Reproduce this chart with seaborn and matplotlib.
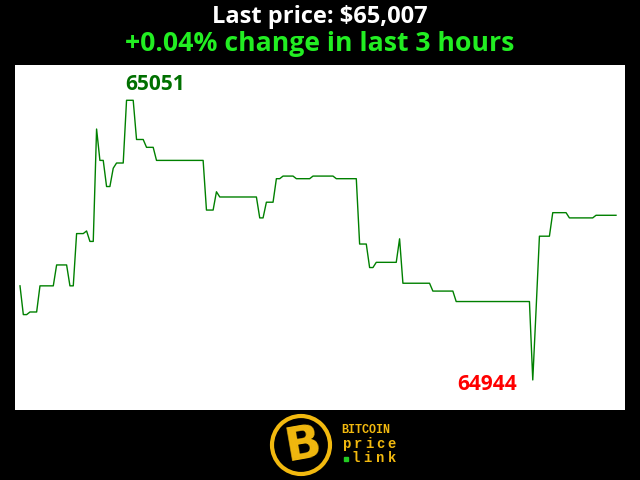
import numpy as np
import pandas as pd
import matplotlib
matplotlib.use("Agg")
import matplotlib.pyplot as plt
import seaborn as sns
from matplotlib.patches import Circle

# price per minute over the last 3 hours
prices = [
    64980, 64969, 64969, 64970, 64970, 64970, 64980, 64980, 64980, 64980,
    64980, 64988, 64988, 64988, 64988, 64980, 64980, 65000, 65000, 65000,
    65001, 64997, 64997, 65040, 65028, 65028, 65018, 65018, 65025, 65027,
    65027, 65027, 65051, 65051, 65051, 65036, 65036, 65036, 65033, 65033,
    65033, 65028, 65028, 65028, 65028, 65028, 65028, 65028, 65028, 65028,
    65028, 65028, 65028, 65028, 65028, 65028, 65009, 65009, 65009, 65016,
    65014, 65014, 65014, 65014, 65014, 65014, 65014, 65014, 65014, 65014,
    65014, 65014, 65006, 65006, 65012, 65012, 65012, 65021, 65021, 65022,
    65022, 65022, 65022, 65021, 65021, 65021, 65021, 65021, 65022, 65022,
    65022, 65022, 65022, 65022, 65022, 65021, 65021, 65021, 65021, 65021,
    65021, 65021, 64996, 64996, 64996, 64987, 64987, 64989, 64989, 64989,
    64989, 64989, 64989, 64989, 64998, 64981, 64981, 64981, 64981, 64981,
    64981, 64981, 64981, 64981, 64978, 64978, 64978, 64978, 64978, 64978,
    64978, 64974, 64974, 64974, 64974, 64974, 64974, 64974, 64974, 64974,
    64974, 64974, 64974, 64974, 64974, 64974, 64974, 64974, 64974, 64974,
    64974, 64974, 64974, 64974, 64944, 64971, 64999, 64999, 64999, 64999,
    65008, 65008, 65008, 65008, 65008, 65006, 65006, 65006, 65006, 65006,
    65006, 65006, 65006, 65007, 65007, 65007, 65007, 65007, 65007, 65007,
]
minutes = list(range(len(prices)))

title_price = "Last price: $65,007"
title_change = "+0.04% change in last 3 hours"
logo_words = ["BITCOIN", "price", "link"]

df = pd.DataFrame({"minute": minutes, "price": prices})

fig = plt.figure(figsize=(6.4, 4.8), dpi=100, facecolor="black")
ax = fig.add_axes([15 / 640, 70 / 480, 610 / 640, 345 / 480])
ax.set_facecolor("white")

sns.lineplot(data=df, x="minute", y="price", ax=ax, color="#008000", linewidth=1)

ax.set_xlim(-1.5, 181.7)
ax.set_ylim(64932.5, 65064.5)
ax.set_axis_off()
ax.add_patch(plt.Rectangle((0, 0), 1, 1, transform=ax.transAxes,
                           facecolor="white", zorder=-1))

# max / min labels
i_max = int(np.argmax(prices))
i_min = int(np.argmin(prices))
ax.annotate(str(prices[i_max]), (minutes[i_max], prices[i_max]),
            xytext=(-1, 4), textcoords="offset points",
            ha="left", va="bottom", color="#007000",
            fontsize=15, fontweight="bold", family="Open Sans")
ax.annotate(str(prices[i_min]), (minutes[i_min], prices[i_min]),
            xytext=(-11, -3), textcoords="offset points",
            ha="right", va="center", color="#ff0000",
            fontsize=15, fontweight="bold", family="Open Sans")

# titles
fig.text(0.5, 1 - 17 / 480, title_price, ha="center", va="center",
         color="white", fontsize=17, fontweight="bold", family="Open Sans")
fig.text(0.5, 1 - 44 / 480, title_change, ha="center", va="center",
         color="#22ee22", fontsize=19.2, fontweight="bold", family="Open Sans")

# logo
gold = "#f2b90f"
logo = fig.add_axes([0, 0, 1, 70 / 480])
logo.set_xlim(0, 640)
logo.set_ylim(70, 0)
logo.set_axis_off()
logo.add_patch(Circle((301, 35), 29, facecolor="black", edgecolor=gold, linewidth=3))
logo.text(303, 36, "B", ha="center", va="center", color=gold, fontsize=34,
          fontweight="bold", family="DejaVu Sans", rotation=10)
logo.text(341, 20, logo_words[0], ha="left", va="center", color=gold,
          fontsize=8.5, fontweight="bold", family="Liberation Mono")
for k, ch in enumerate(logo_words[1]):
    logo.text(347 + k * 11.2, 34, ch, ha="center", va="center", color=gold,
              fontsize=10, fontweight="bold", family="Liberation Mono")
for k, ch in enumerate(logo_words[2]):
    logo.text(356 + k * 11.9, 48, ch, ha="center", va="center", color=gold,
              fontsize=10, fontweight="bold", family="Liberation Mono")
logo.plot([345.5], [48.5], marker="s", markersize=3, color="#22cc22")

fig.savefig("out.png", dpi=100, facecolor="black")
